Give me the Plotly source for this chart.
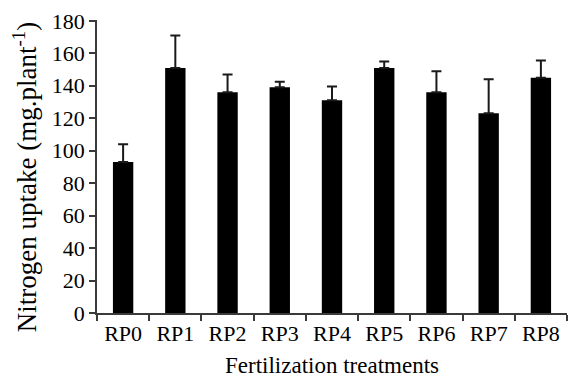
import plotly.graph_objects as go

categories = ["RP0", "RP1", "RP2", "RP3", "RP4", "RP5", "RP6", "RP7", "RP8"]
uptake = [93, 151, 136, 139, 131, 151, 136, 123, 145]
error_up = [11, 20, 11, 3.5, 8.5, 4, 13, 21, 10.5]
y_ticks = [0, 20, 40, 60, 80, 100, 120, 140, 160, 180]

font_family = "Liberation Serif"
axis_color = "#3a3a3a"

fig = go.Figure(
    go.Bar(
        x=categories,
        y=uptake,
        width=0.39,
        marker=dict(color="black", line=dict(width=0)),
        error_y=dict(type="data", array=error_up, symmetric=False,
                     arrayminus=[0] * len(error_up),
                     color="#1a1a1a", thickness=2, width=5),
    )
)

fig.update_layout(
    width=573, height=390,
    margin=dict(l=97, r=6, t=20, b=77),
    paper_bgcolor="white", plot_bgcolor="white",
    showlegend=False,
    font=dict(family=font_family, color="black", size=22),
)

fig.update_xaxes(
    type="category",
    range=[-0.5, 8.5],
    automargin=False,
    showline=True, linecolor=axis_color, linewidth=1.5,
    ticks="outside", tickson="boundaries", ticklen=6, tickwidth=1.5, tickcolor=axis_color,
    tickfont=dict(size=22, family=font_family),
    showgrid=False, zeroline=False,
    title=dict(text="Fertilization treatments", font=dict(size=23, family=font_family), standoff=12),
)

fig.update_yaxes(
    range=[0, 180.5],
    automargin=False,
    tickmode="array", tickvals=y_ticks, ticktext=[str(v) for v in y_ticks],
    showline=True, linecolor=axis_color, linewidth=1.5,
    ticks="outside", ticklen=6, tickwidth=1.5, tickcolor=axis_color,
    tickfont=dict(size=22, family=font_family),
    showgrid=False, zeroline=False,
)

fig.add_annotation(
    text="Nitrogen uptake (mg.plant<sup>-1</sup>)",
    xref="paper", yref="paper", x=-0.153, y=0.464,
    xanchor="center", yanchor="middle", textangle=-90, showarrow=False,
    font=dict(size=27, family=font_family, color="black"),
)

fig.write_html(
    "out.html",
    config={"displayModeBar": False},
    post_script="document.body.style.margin='0';document.body.style.overflow='hidden';",
)
